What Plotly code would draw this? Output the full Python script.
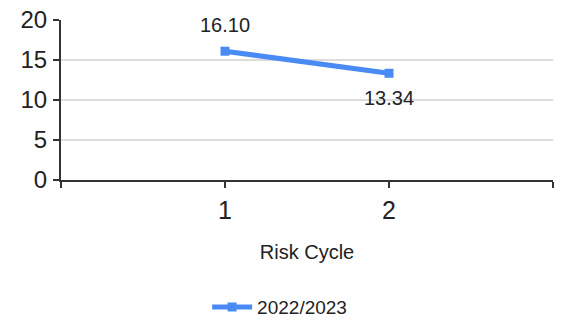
import plotly.graph_objects as go

# Risk cycle scores for the 2022/2023 period
cycles = [1, 2]
scores = [16.10, 13.34]
series_name = "2022/2023"
x_title = "Risk Cycle"
y_ticks = [0, 5, 10, 15, 20]

FONT = "Liberation Sans, Arial, sans-serif"
BLUE = "#4a8af4"
INK = "#222222"

fig = go.Figure()
fig.add_trace(go.Scatter(
    x=cycles, y=scores, name=series_name,
    mode="lines+markers",
    line=dict(color=BLUE, width=5),
    marker=dict(symbol="square", size=9, color=BLUE),
    cliponaxis=False,
))

# value labels: above the first point, below the second
offsets = [-26, 25]
for xv, yv, dy in zip(cycles, scores, offsets):
    fig.add_annotation(x=xv, y=yv, text=f"{yv:.2f}", showarrow=False,
                       yshift=-dy, font=dict(family=FONT, size=20, color=INK))

fig.update_layout(
    width=566, height=321,
    margin=dict(l=61, r=13, t=20, b=141, autoexpand=False),
    paper_bgcolor="white", plot_bgcolor="white",
    showlegend=True,
    legend=dict(orientation="h", x=0.297, xanchor="left", y=-0.795, yanchor="middle",
                itemwidth=40,
                font=dict(family=FONT, size=19, color=INK)),
)
fig.update_xaxes(
    range=[0, 3], tickvals=[0, 1, 2, 3], ticktext=["", "1", "2", ""],
    showgrid=False, zeroline=False,
    showline=True, linecolor="#333333", linewidth=2,
    ticks="outside", ticklen=6, tickwidth=2, tickcolor="#333333",
    ticklabelstandoff=1,
    tickfont=dict(family=FONT, size=25, color=INK),
    title=dict(text=x_title, font=dict(family=FONT, size=20, color=INK), standoff=22),
)
fig.update_yaxes(
    range=[0, 20], tickvals=y_ticks,
    showgrid=True, gridcolor="#dcdcdc", gridwidth=2, zeroline=False,
    showline=True, linecolor="#333333", linewidth=2,
    ticks="outside", ticklen=6, tickwidth=2, tickcolor="#333333",
    ticklabelstandoff=1,
    tickfont=dict(family=FONT, size=24, color=INK),
)

fig.write_html("out.html")
